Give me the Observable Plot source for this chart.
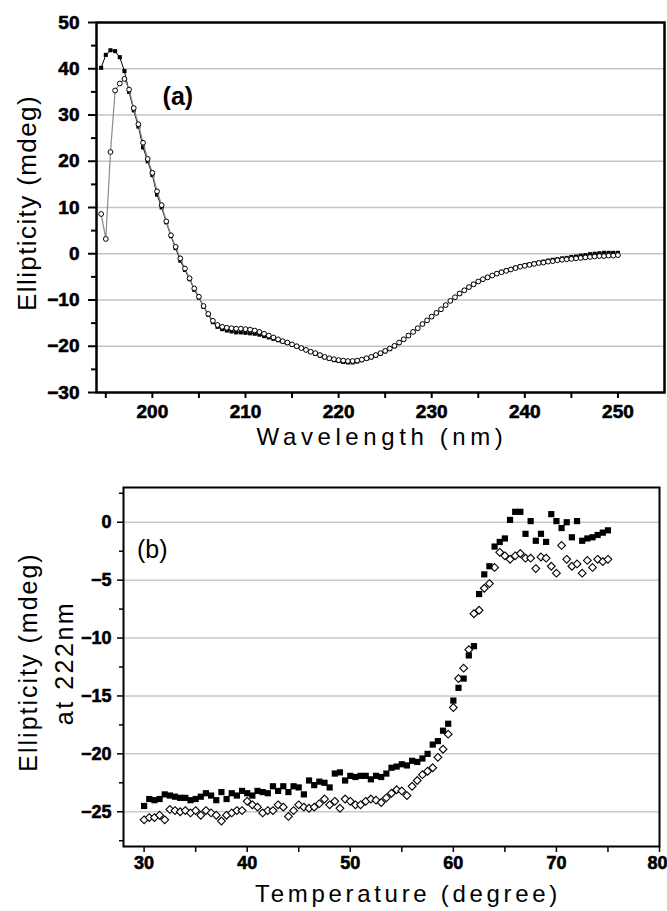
<!DOCTYPE html>
<html><head><meta charset="utf-8">
<script src="https://cdn.jsdelivr.net/npm/d3@7"></script>
<script src="https://cdn.jsdelivr.net/npm/@observablehq/plot@0.6"></script>
<style>
body{margin:0;background:#fff;}
#chart{width:667px;}
#chart svg{display:block;}
</style></head><body><div id="chart"></div>
<script>
// ---------- Panel (a): CD spectra ----------
const wavelengths = [
194.5,195,195.5,196,196.5,197,197.5,198,198.5,199,
199.5,200,200.5,201,201.5,202,202.5,203,203.5,204,
204.5,205,205.5,206,206.5,207,207.5,208,208.5,209,
209.5,210,210.5,211,211.5,212,212.5,213,213.5,214,
214.5,215,215.5,216,216.5,217,217.5,218,218.5,219,
219.5,220,220.5,221,221.5,222,222.5,223,223.5,224,
224.5,225,225.5,226,226.5,227,227.5,228,228.5,229,
229.5,230,230.5,231,231.5,232,232.5,233,233.5,234,
234.5,235,235.5,236,236.5,237,237.5,238,238.5,239,
239.5,240,240.5,241,241.5,242,242.5,243,243.5,244,
244.5,245,245.5,246,246.5,247,247.5,248,248.5,249,
249.5,250];
const cdFilled = [
40.2,43.0,44.0,43.8,42.5,39.5,35.0,31.0,27.5,23.0,
20.0,17.0,12.8,10.0,6.8,3.8,1.2,-1.5,-3.5,-5.5,
-7.8,-9.5,-11.5,-13.2,-14.8,-15.8,-16.3,-16.6,-16.8,-17.0,
-17.0,-17.1,-17.2,-17.3,-17.5,-17.8,-18.1,-18.4,-18.7,-19.0,
-19.3,-19.7,-20.0,-20.4,-20.8,-21.2,-21.6,-22.0,-22.4,-22.7,
-23.0,-23.2,-23.4,-23.5,-23.5,-23.3,-23.0,-22.7,-22.4,-22.0,
-21.6,-21.1,-20.6,-20.0,-19.3,-18.5,-17.7,-16.9,-16.1,-15.2,
-14.4,-13.6,-12.8,-12.0,-11.1,-10.2,-9.4,-8.6,-7.9,-7.2,
-6.6,-6.0,-5.5,-5.1,-4.7,-4.3,-3.9,-3.6,-3.3,-3.0,
-2.7,-2.5,-2.3,-2.1,-1.9,-1.7,-1.5,-1.3,-1.2,-1.0,
-0.9,-0.7,-0.6,-0.4,-0.3,-0.1,0.0,0.1,0.2,0.2,
0.2,0.2];
const cdOpen = [
8.6,3.2,22.0,35.3,36.8,37.8,35.5,31.5,28.0,24.0,
20.5,17.5,13.5,10.5,7.0,4.0,1.5,-1.0,-3.2,-5.3,
-7.5,-9.3,-11.3,-13.0,-14.5,-15.4,-15.8,-16.0,-16.1,-16.2,
-16.2,-16.3,-16.4,-16.6,-16.9,-17.3,-17.7,-18.1,-18.5,-18.9,
-19.2,-19.6,-20.0,-20.4,-20.8,-21.2,-21.5,-21.9,-22.3,-22.6,
-22.8,-23.0,-23.1,-23.2,-23.2,-23.1,-22.9,-22.6,-22.3,-21.9,
-21.5,-21.0,-20.5,-19.9,-19.2,-18.5,-17.7,-16.9,-16.1,-15.2,
-14.4,-13.6,-12.8,-12.0,-11.1,-10.2,-9.4,-8.6,-7.9,-7.2,
-6.6,-6.0,-5.5,-5.1,-4.7,-4.3,-4.0,-3.7,-3.4,-3.1,
-2.8,-2.6,-2.4,-2.2,-2.0,-1.9,-1.7,-1.6,-1.4,-1.3,
-1.2,-1.1,-1.0,-0.9,-0.8,-0.7,-0.6,-0.5,-0.5,-0.4,
-0.4,-0.3];
const wlMajorTicks = [200,210,220,230,240,250];
const wlMinorTicks = [195,205,215,225,235,245];
const ellMajorTicks = [-30,-20,-10,0,10,20,30,40,50];
const ellMinorTicks = [-25,-15,-5,5,15,25,35,45];
const ellGrid = [-20,-10,0,10,20,30,40];
const panelA = [{label:"(a)", x:201.1, y:34}];

// ---------- Panel (b): thermal melt at 222 nm ----------
const temperatures = [
30,30.5,31,31.5,32,32.5,33,33.5,34,34.5,
35,35.5,36,36.5,37,37.5,38,38.5,39,39.5,
40,40.5,41,41.5,42,42.5,43,43.5,44,44.5,
45,45.5,46,46.5,47,47.5,48,48.5,49,49.5,
50,50.5,51,51.5,52,52.5,53,53.5,54,54.5,
55,55.5,56,56.5,57,57.5,58,58.5,59,59.5,
60,60.5,61,61.5,62,62.5,63,63.5,64,64.5,
65,65.5,66,66.5,67,67.5,68,68.5,69,69.5,
70,70.5,71,71.5,72,72.5,73,73.5,74,74.5,
75];
const meltFilled = [
-24.5,-23.9,-24.0,-23.9,-23.5,-23.6,-23.7,-23.8,-23.8,-24.0,
-23.9,-23.7,-23.4,-23.6,-24.0,-23.3,-23.9,-23.4,-23.6,-23.2,
-23.4,-23.6,-23.2,-23.3,-23.4,-22.8,-23.2,-22.8,-23.3,-22.8,
-22.9,-23.5,-22.3,-22.7,-22.4,-22.5,-22.9,-21.7,-21.6,-22.3,
-21.9,-22.0,-21.9,-21.9,-22.2,-21.9,-22.0,-21.7,-21.2,-21.1,
-20.9,-21.0,-20.6,-20.7,-20.4,-20.0,-19.2,-18.9,-18.0,-17.4,
-15.4,-14.3,-13.5,-11.5,-10.7,-6.2,-4.5,-3.8,-2.1,-1.7,
-1.4,0.2,0.9,0.9,-1.0,0.1,-1.6,-1.0,-1.7,0.7,
0.1,-0.5,0.0,-1.3,0.1,-1.6,-1.4,-1.3,-1.1,-0.9,
-0.7];
const meltOpen = [
-25.7,-25.5,-25.5,-25.3,-25.7,-24.8,-24.9,-25.0,-24.9,-25.1,
-24.9,-25.3,-24.9,-25.1,-25.3,-25.8,-25.3,-25.1,-24.9,-24.9,
-24.1,-24.4,-24.6,-25.1,-24.9,-24.9,-24.4,-24.6,-25.4,-24.9,
-24.4,-24.6,-24.7,-24.6,-24.3,-23.9,-24.4,-24.1,-24.7,-23.9,
-24.1,-24.4,-24.4,-24.1,-23.9,-24.0,-24.2,-23.8,-23.4,-23.1,
-23.2,-23.6,-22.8,-22.3,-21.8,-21.5,-21.2,-20.3,-19.6,-18.3,
-16.0,-13.5,-12.6,-11.0,-7.9,-7.6,-5.7,-5.3,-3.9,-2.6,
-2.9,-3.2,-2.9,-2.7,-3.1,-3.1,-4.0,-3.0,-3.1,-3.8,
-4.4,-2.0,-3.2,-3.8,-3.6,-4.4,-3.3,-3.9,-3.2,-3.4,
-3.2];
const tMajorTicks = [30,40,50,60,70,80];
const tMinorTicks = [35,45,55,65,75];
const meltMajorTicks = [0,-5,-10,-15,-20,-25];
const meltMinorTicks = [2.5,-2.5,-7.5,-12.5,-17.5,-22.5,-27.5];
const meltGrid = [0,-5,-10,-15,-20,-25];
const panelB = [{label:"(b)", x:29.3, y:-2.4}];

const FONT = "'Liberation Sans', Arial, Helvetica, sans-serif";
const cdRows = wavelengths.map((w, i) => ({w, filled: cdFilled[i], open: cdOpen[i]}));
const meltRows = temperatures.map((t, i) => ({t, filled: meltFilled[i], open: meltOpen[i]}));
const tLabelsInner = tMajorTicks.slice(0, -1);
const tLabelsLast = tMajorTicks.slice(-1);

// ---------- Top plot ----------
const topPlot = Plot.plot({
  width: 667, height: 455,
  marginLeft: 96, marginRight: 3, marginTop: 22, marginBottom: 63,
  style: {fontFamily: FONT, background: "white", overflow: "visible"},
  x: {domain: [194, 255]},
  y: {domain: [-30, 50]},
  marks: [
    Plot.ruleY(ellGrid, {stroke: "#c4c4c4", strokeWidth: 1.6}),
    Plot.axisY(ellMajorTicks, {tickSize: 8, tickPadding: 9, strokeWidth: 2, label: null}),
    Plot.axisY(ellMinorTicks, {tickSize: 5, tickFormat: () => "", strokeWidth: 2, label: null}),
    Plot.axisX(wlMajorTicks, {tickSize: 6, tickPadding: 6, strokeWidth: 2, label: null}),
    Plot.axisX(wlMinorTicks, {tickSize: 6, tickFormat: () => "", strokeWidth: 2, label: null}),
    Plot.line(cdRows, {x: "w", y: "filled", stroke: "black", strokeWidth: 1}),
    Plot.dot(cdRows, {x: "w", y: "filled", symbol: "square", r: 2.3, fill: "black", stroke: "none"}),
    Plot.line(cdRows, {x: "w", y: "open", stroke: "#8a8a8a", strokeWidth: 1.2}),
    Plot.dot(cdRows, {x: "w", y: "open", symbol: "circle", r: 2.4, fill: "white", stroke: "black", strokeWidth: 1}),
    Plot.text(panelA, {x: "x", y: "y", text: "label", textAnchor: "start", fontSize: 25, fontWeight: "bold", fill: "black"}),
    Plot.frame({stroke: "black", strokeWidth: 2.5})
  ]
});

// ---------- Bottom plot ----------
const bottomPlot = Plot.plot({
  width: 667, height: 456,
  marginLeft: 123, marginRight: 8, marginTop: 32, marginBottom: 65,
  style: {fontFamily: FONT, background: "white", overflow: "visible"},
  x: {domain: [28, 80]},
  y: {domain: [-28, 3]},
  marks: [
    Plot.ruleY(meltGrid, {stroke: "#c8c8c8", strokeWidth: 1.5}),
    Plot.axisY(meltMajorTicks, {tickSize: 6, tickPadding: 6, strokeWidth: 1.5, label: null}),
    Plot.axisY(meltMinorTicks, {tickSize: 4, tickFormat: () => "", strokeWidth: 1.5, label: null}),
    Plot.axisX(tMajorTicks, {tickSize: 6, tickFormat: () => "", strokeWidth: 1.5, label: null}),
    Plot.axisX(tMinorTicks, {tickSize: 6, tickFormat: () => "", strokeWidth: 1.5, label: null}),
    Plot.text(tLabelsInner, {x: d => d, frameAnchor: "bottom", lineAnchor: "top", dy: 10, fill: "black", text: d => String(d)}),
    Plot.text(tLabelsLast, {x: d => d, frameAnchor: "bottom", lineAnchor: "top", dy: 10, dx: 8, textAnchor: "end", fill: "black", text: d => String(d)}),
    Plot.dot(meltRows, {x: "t", y: "open", symbol: "diamond2", r: 3.5, fill: "white", stroke: "black", strokeWidth: 1.1}),
    Plot.dot(meltRows, {x: "t", y: "filled", symbol: "square", r: 3.5, fill: "black", stroke: "none"}),
    Plot.text(panelB, {x: "x", y: "y", text: "label", textAnchor: "start", fontSize: 25, fontWeight: "normal", fill: "black"}),
    Plot.frame({stroke: "black", strokeWidth: 2})
  ]
});

const chart = document.getElementById("chart");
chart.appendChild(topPlot);
chart.appendChild(bottomPlot);

// heavy, bold numeric tick labels
function styleTickLabels(svg, size) {
  d3.select(svg).selectAll("text").each(function() {
    if (/^[−\-]?\d+$/.test(this.textContent.trim())) {
      d3.select(this).style("font-size", size + "px").style("font-weight", "bold")
        .style("font-family", FONT)
        .style("stroke", "black").style("stroke-width", "0.6px").style("paint-order", "stroke");
    }
  });
}
styleTickLabels(topPlot, 19);
styleTickLabels(bottomPlot, 18);

// axis titles
const st = d3.select(topPlot);
st.append("text").attr("transform", "translate(36,203) rotate(-90)")
  .attr("text-anchor", "middle").attr("font-size", 26).attr("font-weight", "normal").attr("letter-spacing", 1.4)
  .attr("font-family", FONT).attr("fill", "black").text("Ellipticity (mdeg)");
st.append("text").attr("x", 382).attr("y", 445)
  .attr("text-anchor", "middle").attr("font-size", 24).attr("font-weight", "normal").attr("letter-spacing", 4.6)
  .attr("font-family", FONT).attr("fill", "black").text("Wavelength (nm)");

const sb = d3.select(bottomPlot);
sb.append("text").attr("transform", "translate(37,207) rotate(-90)")
  .attr("text-anchor", "middle").attr("font-size", 25).attr("font-weight", "normal").attr("letter-spacing", 2)
  .attr("font-family", FONT).attr("fill", "black").text("Ellipticity (mdeg)");
sb.append("text").attr("transform", "translate(73,208) rotate(-90)")
  .attr("text-anchor", "middle").attr("font-size", 25).attr("font-weight", "normal").attr("letter-spacing", 2.5)
  .attr("font-family", FONT).attr("fill", "black").text("at 222nm");
sb.append("text").attr("x", 408).attr("y", 447)
  .attr("text-anchor", "middle").attr("font-size", 24).attr("font-weight", "normal").attr("letter-spacing", 3.7)
  .attr("font-family", FONT).attr("fill", "black").text("Temperature (degree)");
</script></body></html>
